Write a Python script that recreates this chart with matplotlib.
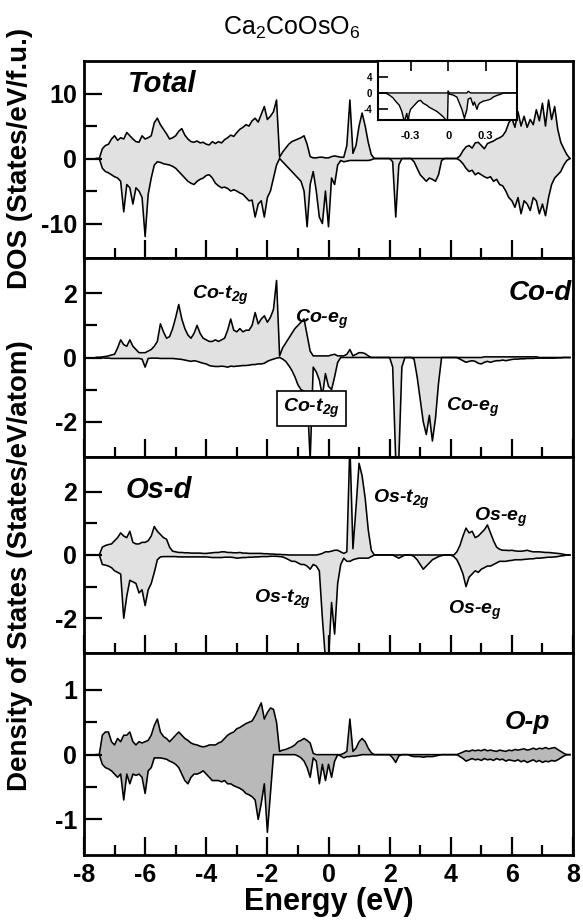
import numpy as np
import matplotlib
matplotlib.use('Agg')
import matplotlib.pyplot as plt
from matplotlib.ticker import MultipleLocator, FixedLocator

plt.rcParams['font.family'] = ['Liberation Sans', 'DejaVu Sans']
plt.rcParams['font.weight'] = 'bold'
plt.rcParams['mathtext.default'] = 'regular'
plt.rcParams['axes.unicode_minus'] = False

# ---------------- data (energy grid -7.6 ... 7.9 eV, step 0.1) ----------------
energy = np.linspace(-7.6, 7.9, 156)

total_up = [
    0, 0, 1.5, 2.0, 2.2, 3.0, 3.5, 2.8, 3.2, 3.0,
    4.0, 3.5, 3.0, 2.6, 2.5, 3.5, 3.0, 3.2, 3.5, 5.5,
    6.2, 5.2, 4.5, 3.8, 3.0, 3.2, 3.5, 4.2, 4.6, 3.6,
    3.0, 2.6, 2.5, 2.7, 2.4, 2.5, 2.2, 2.1, 2.6, 2.3,
    2.6, 2.4, 2.9, 3.2, 3.6, 3.4, 4.0, 4.5, 4.8, 5.2,
    5.0, 5.8, 6.2, 5.6, 6.8, 8.0, 6.0, 6.5, 7.2, 9.0,
    0.2, 1.0, 1.6, 2.2, 2.6, 2.8, 3.0, 3.2, 3.5, 2.2,
    0.3, 0.1, 0.1, 0.2, 0.2, 0.1, 0.1, 0.3, 0.4, 0.3,
    0.2, 0.2, 2.0, 9.0, 0.8, 2.0, 5.0, 7.0, 5.0, 2.5,
    0.6, 0, 0, 0, 0, 0, 0, 0, 0, 0,
    0, 0, 0, 0, 0, 0, 0, 0, 0, 0,
    0, 0, 0, 0, 0, 0, 0, 0, 0, 0.4,
    1.2, 1.8, 2.0, 1.6, 2.4, 2.5, 2.0, 1.5, 2.3, 2.5,
    2.7, 3.0, 3.2, 3.5, 4.2, 5.5, 6.2, 4.8, 7.2, 5.0,
    6.5, 4.8, 6.0, 5.2, 7.5, 5.8, 8.5, 5.0, 9.0, 6.0,
    8.0, 4.5, 2.5, 1.5, 0.6, 0]
total_dn = [
    0, 0, -1.5, -2.0, -2.2, -2.5, -2.8, -3.0, -3.5, -8.2,
    -4.0, -4.5, -7.0, -4.5, -5.0, -6.0, -12.0, -5.5, -3.0, -1.0,
    -0.5, -0.6, -0.8, -0.9, -1.0, -1.2, -1.5, -2.0, -2.5, -3.0,
    -3.5, -3.8, -4.0, -3.5, -3.2, -3.0, -2.6, -2.5, -3.0, -3.8,
    -4.2, -4.5, -4.4, -4.6, -5.0, -4.8, -5.0, -5.3, -5.5, -6.0,
    -6.5, -6.4, -9.0, -7.0, -6.5, -9.0, -6.0, -5.0, -3.0, -1.0,
    0, -0.5, -1.0, -1.5, -2.0, -2.5, -3.0, -3.5, -5.0, -10.5,
    -4.0, -2.0, -5.0, -9.0, -10.0, -5.0, -10.5, -3.0, -4.0, -1.0,
    -0.3, -0.5, -0.4, -0.3, -0.3, -0.3, -0.3, -0.3, -0.3, -0.3,
    -0.2, 0, 0, 0, 0, 0, 0, -0.5, -9.0, -1.0,
    0, 0, 0, 0, -0.5, -1.5, -2.5, -3.0, -3.5, -3.0,
    -3.2, -3.5, -2.5, -0.3, 0, 0, 0, 0, 0, -0.3,
    -0.8, -1.5, -2.0, -1.8, -2.5, -2.2, -2.5, -2.8, -3.0, -2.8,
    -3.5, -3.2, -4.0, -4.2, -5.0, -6.0, -6.5, -7.5, -6.0, -8.5,
    -6.5, -7.0, -8.0, -6.0, -6.5, -8.5, -7.0, -8.8, -6.0, -4.0,
    -3.0, -2.5, -2.0, -1.0, -0.3, 0]

co_up = [
    0, 0, 0.02, 0.03, 0.05, 0.08, 0.1, 0.3, 0.55, 0.4,
    0.35, 0.55, 0.35, 0.25, 0.15, 0.15, 0.15, 0.2, 0.25, 0.35,
    0.5, 1.05, 0.8, 0.6, 0.65, 0.9, 1.25, 1.65, 1.2, 0.9,
    0.7, 0.6, 0.75, 1.0, 0.75, 0.6, 0.55, 0.5, 0.5, 0.55,
    0.5, 0.55, 0.6, 0.85, 1.2, 0.85, 0.8, 0.9, 0.8, 0.85,
    0.85, 1.0, 1.4, 1.05, 1.2, 1.3, 1.1, 1.25, 1.5, 2.4,
    0.05, 0.3, 0.45, 0.6, 0.75, 0.9, 1.0, 1.1, 1.2, 0.7,
    0.2, 0.05, 0.05, 0.05, 0.05, 0.05, 0.05, 0.08, 0.1, 0.05,
    0.05, 0.05, 0.1, 0.25, 0.05, 0.1, 0.15, 0.15, 0.12, 0.05,
    0, 0, 0, 0, 0, 0, 0, 0, 0, 0,
    0, 0, 0, 0, 0, 0, 0, 0, 0, 0,
    0, 0, 0, 0, 0, 0, 0, 0, 0, 0,
    0, 0, 0, 0, 0, 0, 0, 0.02, 0.02, 0.02,
    0.02, 0.02, 0.02, 0.02, 0.02, 0.02, 0.02, 0.02, 0.02, 0.02,
    0.02, 0.02, 0.02, 0.02, 0.02, 0, 0, 0, 0, 0,
    0, 0, 0, 0, 0, 0]
co_dn = [
    0, 0, -0.01, -0.02, -0.02, -0.03, -0.03, -0.03, -0.03, -0.03,
    -0.03, -0.03, -0.03, -0.03, -0.03, -0.05, -0.3, -0.03, -0.02, -0.02,
    -0.02, -0.03, -0.03, -0.03, -0.03, -0.03, -0.04, -0.05, -0.06, -0.08,
    -0.1, -0.12, -0.1, -0.12, -0.15, -0.18, -0.2, -0.25, -0.27, -0.28,
    -0.28, -0.27, -0.28, -0.3, -0.27, -0.28, -0.27, -0.26, -0.25, -0.25,
    -0.24, -0.22, -0.22, -0.2, -0.2, -0.18, -0.12, -0.08, -0.05, -0.02,
    0, -0.05, -0.12, -0.25, -0.4, -0.6, -0.85, -1.0, -1.05, -1.15,
    -3.2, -0.3, -0.45, -0.7, -1.2, -0.5, -0.9, -1.0, -0.6, -0.15,
    0, 0, 0, 0, 0, 0, 0, 0, 0, 0,
    0, 0, 0, 0, 0, 0, 0, -0.3, -3.2, -3.2,
    -0.3, 0, 0, 0, -0.05, -0.6, -1.3, -2.0, -2.4, -1.8,
    -2.6, -1.9, -0.8, 0, 0, 0, 0, 0, 0, -0.05,
    -0.1, -0.15, -0.12, -0.1, -0.12, -0.18, -0.2, -0.15, -0.12, -0.15,
    -0.12, -0.1, -0.1, -0.08, -0.1, -0.08, -0.06, -0.05, -0.05, -0.04,
    -0.04, -0.03, -0.03, -0.03, -0.02, -0.02, -0.02, -0.02, -0.02, -0.02,
    -0.02, -0.01, -0.01, 0, 0, 0]

os_up = [
    0, 0, 0.25, 0.3, 0.33, 0.35, 0.45, 0.55, 0.7, 0.6,
    0.55, 0.75, 0.4, 0.35, 0.35, 0.4, 0.4, 0.45, 0.6, 0.9,
    0.75, 0.65, 0.55, 0.5, 0.25, 0.12, 0.1, 0.08, 0.08, 0.07,
    0.07, 0.06, 0.06, 0.06, 0.06, 0.05, 0.05, 0.06, 0.07, 0.08,
    0.08, 0.1, 0.1, 0.08, 0.08, 0.07, 0.07, 0.08, 0.06, 0.06,
    0.05, 0.05, 0.05, 0.05, 0.05, 0.04, 0.04, 0.03, 0.03, 0.02,
    0.02, 0.01, 0.01, 0, 0, 0, 0, 0, 0, 0,
    0, 0, 0, 0.02, 0.05, 0.1, 0.1, 0.12, 0.15, 0.15,
    0.1, 0.05, 0.1, 3.5, 0.2, 1.5, 2.9, 2.5, 1.8, 0.8,
    0.15, 0, 0, 0, 0, 0, 0, 0, 0, 0,
    0, 0, 0, 0, 0, 0, 0, 0, 0, 0,
    0, 0, 0, 0, 0, 0, 0, 0, 0.1, 0.3,
    0.6, 0.85, 0.7, 0.75, 0.55, 0.6, 0.7, 0.8, 0.95, 0.7,
    0.45, 0.25, 0.18, 0.15, 0.15, 0.14, 0.15, 0.13, 0.12, 0.12,
    0.13, 0.15, 0.12, 0.1, 0.1, 0.1, 0.09, 0.08, 0.08, 0.07,
    0.06, 0.05, 0.04, 0.02, 0, 0]
os_dn = [
    0, 0, -0.3, -0.32, -0.35, -0.4, -0.5, -0.55, -0.6, -2.0,
    -1.3, -0.8, -0.85, -0.9, -1.2, -1.1, -1.6, -1.1, -0.9, -0.55,
    -0.15, -0.06, -0.05, -0.05, -0.05, -0.05, -0.05, -0.06, -0.06, -0.06,
    -0.06, -0.06, -0.06, -0.06, -0.06, -0.06, -0.06, -0.07, -0.08, -0.08,
    -0.08, -0.08, -0.07, -0.07, -0.07, -0.08, -0.1, -0.09, -0.08, -0.08,
    -0.07, -0.07, -0.06, -0.06, -0.05, -0.05, -0.05, -0.04, -0.04, -0.04,
    -0.05, -0.06, -0.1, -0.15, -0.2, -0.2, -0.25, -0.3, -0.3, -0.35,
    -0.45, -0.3, -0.35, -0.5, -2.0, -3.3, -3.3, -1.5, -2.5, -0.9,
    -0.3, -0.1, -0.2, -0.2, -0.15, -0.12, -0.1, -0.1, -0.1, -0.1,
    -0.05, 0, 0, 0, 0, 0, 0, 0, -0.05, -0.1,
    -0.05, 0, 0, 0, -0.05, -0.15, -0.3, -0.45, -0.35, -0.25,
    -0.15, -0.1, -0.05, -0.02, 0, 0, 0, -0.05, -0.15, -0.35,
    -0.6, -1.0, -0.7, -0.6, -0.5, -0.55, -0.45, -0.4, -0.35, -0.35,
    -0.3, -0.25, -0.2, -0.2, -0.2, -0.18, -0.17, -0.15, -0.15, -0.15,
    -0.14, -0.13, -0.12, -0.12, -0.1, -0.1, -0.09, -0.08, -0.07, -0.07,
    -0.06, -0.05, -0.03, -0.02, 0, 0]

op_up = [
    0, 0, 0.3, 0.35, 0.35, 0.2, 0.15, 0.25, 0.2, 0.3,
    0.3, 0.35, 0.2, 0.15, 0.2, 0.18, 0.2, 0.22, 0.3, 0.45,
    0.55, 0.35, 0.28, 0.25, 0.2, 0.25, 0.3, 0.35, 0.3, 0.25,
    0.22, 0.18, 0.16, 0.15, 0.13, 0.12, 0.13, 0.15, 0.15, 0.15,
    0.18, 0.2, 0.25, 0.3, 0.33, 0.35, 0.4, 0.42, 0.45, 0.48,
    0.5, 0.52, 0.6, 0.7, 0.8, 0.55, 0.65, 0.72, 0.7, 0.5,
    0.05, 0.07, 0.08, 0.1, 0.12, 0.15, 0.2, 0.22, 0.25, 0.22,
    0.18, 0.02, 0, 0, 0, 0, 0, 0, 0, 0,
    0, 0.02, 0.05, 0.55, 0.05, 0.1, 0.2, 0.25, 0.2, 0.1,
    0.03, 0, 0, 0, 0, 0, 0, 0, 0, 0,
    0, 0, 0, 0, 0, 0, 0, 0, 0, 0,
    0, 0, 0, 0, 0, 0, 0, 0, 0, 0.02,
    0.04, 0.06, 0.05, 0.07, 0.06, 0.07, 0.06, 0.08, 0.06, 0.07,
    0.06, 0.05, 0.07, 0.06, 0.05, 0.07, 0.06, 0.08, 0.07, 0.08,
    0.09, 0.07, 0.08, 0.1, 0.08, 0.1, 0.09, 0.11, 0.09, 0.1,
    0.11, 0.08, 0.05, 0.02, 0, 0]
op_dn = [
    0, 0, -0.15, -0.2, -0.22, -0.25, -0.3, -0.35, -0.3, -0.7,
    -0.3, -0.45, -0.3, -0.32, -0.3, -0.35, -0.6, -0.25, -0.2, -0.05,
    -0.05, -0.05, -0.06, -0.07, -0.1, -0.12, -0.15, -0.2, -0.3, -0.4,
    -0.45, -0.35, -0.3, -0.3, -0.28, -0.25, -0.3, -0.35, -0.4, -0.4,
    -0.4, -0.42, -0.4, -0.45, -0.45, -0.48, -0.5, -0.52, -0.55, -0.6,
    -0.62, -0.65, -0.7, -1.0, -0.75, -0.45, -1.2, -0.6, 0, 0,
    0, 0, 0, 0, 0, 0, -0.02, -0.05, -0.1, -0.2,
    -0.35, -0.05, -0.1, -0.45, -0.15, -0.4, -0.15, -0.35, -0.1, 0,
    -0.02, -0.05, -0.03, -0.03, -0.02, -0.02, -0.01, 0, 0, 0,
    0, 0, 0, 0, 0, 0, 0, -0.05, -0.12, -0.02,
    0, 0, 0, -0.02, -0.03, -0.03, -0.03, -0.04, -0.03, -0.03,
    -0.03, -0.02, -0.01, 0, 0, 0, 0, 0, 0, -0.03,
    -0.06, -0.1, -0.08, -0.06, -0.08, -0.07, -0.09, -0.06, -0.08, -0.07,
    -0.09, -0.06, -0.08, -0.07, -0.1, -0.08, -0.09, -0.1, -0.08, -0.11,
    -0.09, -0.12, -0.1, -0.08, -0.11, -0.09, -0.12, -0.1, -0.11, -0.09,
    -0.1, -0.08, -0.05, -0.02, 0, 0]

# inset: total DOS near the Fermi level
inset_energy = [-0.55, -0.5, -0.47, -0.44, -0.42, -0.39, -0.37, -0.35, -0.33, -0.32,
                -0.31, -0.3, -0.27, -0.24, -0.22, -0.2, -0.17, -0.15, -0.12, -0.09,
                -0.07, -0.04, -0.02, -0.005, 0.0, 0.01, 0.04, 0.07, 0.09, 0.11,
                0.13, 0.15, 0.16, 0.18, 0.2, 0.21, 0.23, 0.24, 0.25, 0.28,
                0.31, 0.34, 0.36, 0.39, 0.42, 0.44, 0.55]
inset_dn = [0, 0, -0.5, -1.2, -2.0, -3.0, -4.5, -7, -5, -7,
            -5, -4, -3, -2, -1.8, -2.5, -3, -3.5, -4, -4.5,
            -5, -5.8, -6.5, -7, 0, -0.3, -0.5, -1, -2.5, -4,
            -6.2, -4, -1.5, -1.2, -3, -2.2, -4, -3, -2.5, -2,
            -1.8, -1.5, -1, -0.6, -0.3, 0, 0]
inset_up = [0, 0, 0, 0, 0, 0, 0, 0, 0, 0,
            0, 0, 0, 0, 0, 0, 0, 0, 0, 0,
            0, 0, 0, 0, 0.5, 0, 0, 0, 0, 0,
            0, 0, 0.4, 0, 0, 0, 0, 0, 0, 0,
            0, 0, 0, 0, 0, 0, 0]

# ---------------- figure ----------------
W_PX, H_PX = 583, 923
fig = plt.figure(figsize=(W_PX / 100, H_PX / 100), dpi=100)
X0, X1 = 84, 573


def rect(top, bot):
    return [X0 / W_PX, 1 - bot / H_PX, (X1 - X0) / W_PX, (bot - top) / H_PX]


LIGHT = '#e1e1e1'
DARK = '#b9b9b9'


def panel(ax, up, dn, ylim, major, minors, color):
    ax.fill_between(energy, dn, up, color=color, lw=0, zorder=1)
    ax.plot(energy, up, color='k', lw=1.15, zorder=2)
    ax.plot(energy, dn, color='k', lw=1.15, zorder=2)
    ax.set_xlim(-8, 8)
    ax.set_ylim(*ylim)
    ax.xaxis.set_major_locator(MultipleLocator(2))
    ax.xaxis.set_minor_locator(MultipleLocator(1))
    ax.yaxis.set_major_locator(MultipleLocator(major))
    ax.yaxis.set_minor_locator(FixedLocator(minors))
    ax.tick_params(axis='x', which='both', direction='in', bottom=True, top=False,
                   labelbottom=False, width=1.6)
    ax.tick_params(axis='x', which='major', length=13)
    ax.tick_params(axis='x', which='minor', length=7)
    ax.tick_params(axis='y', which='both', direction='in', left=True, right=False,
                   width=1.6)
    ax.tick_params(axis='y', which='major', length=13, labelsize=18, pad=5)
    ax.tick_params(axis='y', which='minor', length=9)
    for sp in ax.spines.values():
        sp.set_linewidth(2.0)
        sp.set_zorder(5)


ax_tot = fig.add_axes(rect(61, 258))
ax_co = fig.add_axes(rect(258, 457))
ax_os = fig.add_axes(rect(457, 653))
ax_op = fig.add_axes(rect(653, 855))

panel(ax_tot, total_up, total_dn, (-15.3, 15.0), 10, [-5, 5], LIGHT)
panel(ax_co, co_up, co_dn, (-3.1, 3.1), 2, [-1, 1], LIGHT)
panel(ax_os, os_up, os_dn, (-3.1, 3.1), 2, [-1, 1], LIGHT)
panel(ax_op, op_up, op_dn, (-1.55, 1.57), 1, [-0.5, 0.5], DARK)

ax_op.tick_params(axis='x', which='major', labelbottom=True, labelsize=18, pad=6)
ax_op.set_xlabel('Energy (eV)', fontsize=22, fontweight='bold', labelpad=0)

TXT = dict(fontweight='bold', fontstyle='italic')
ax_tot.text(-6.55, 11.5, 'Total', fontsize=21, va='center', ha='left', **TXT)
ax_co.text(7.95, 2.0, 'Co-d', fontsize=20, va='center', ha='right', **TXT)
ax_os.text(-6.65, 2.05, 'Os-d', fontsize=21, va='center', ha='left', **TXT)
ax_op.text(7.25, 0.5, 'O-p', fontsize=19, va='center', ha='right', **TXT)

ax_co.text(-4.45, 1.95, 'Co-t$_{2g}$', fontsize=14, va='center', ha='left', **TXT)
ax_co.text(-1.1, 1.2, 'Co-e$_{g}$', fontsize=14, va='center', ha='left', **TXT)
ax_co.text(-0.56, -1.58, 'Co-t$_{2g}$', fontsize=14, va='center', ha='center', zorder=6,
           bbox=dict(boxstyle='square,pad=0.3', fc='white', ec='k', lw=1.2), **TXT)
ax_co.text(3.85, -1.55, 'Co-e$_{g}$', fontsize=14, va='center', ha='left', **TXT)

ax_os.text(1.45, 1.75, 'Os-t$_{2g}$', fontsize=14, va='center', ha='left', **TXT)
ax_os.text(4.75, 1.2, 'Os-e$_{g}$', fontsize=14, va='center', ha='left', **TXT)
ax_os.text(-2.45, -1.4, 'Os-t$_{2g}$', fontsize=14, va='center', ha='left', **TXT)
ax_os.text(3.9, -1.75, 'Os-e$_{g}$', fontsize=14, va='center', ha='left', **TXT)

fig.text(0.5, 1 - 28 / H_PX, 'Ca$_2$CoOsO$_6$', fontsize=18, fontweight='normal',
         ha='center', va='center')
fig.text(20 / W_PX, 1 - 158 / H_PX, 'DOS (States/eV/f.u.)', rotation=90,
         fontsize=20, fontweight='bold', ha='center', va='center')
fig.text(20 / W_PX, 1 - 566 / H_PX, 'Density of States (States/eV/atom)', rotation=90,
         fontsize=20, fontweight='bold', ha='center', va='center')

# inset
ax_in = fig.add_axes([378 / W_PX, 1 - 120 / H_PX, 139 / W_PX, 59 / H_PX], zorder=10)
ax_in.set_facecolor('white')
ax_in.fill_between(inset_energy, inset_dn, inset_up, color=LIGHT, lw=0)
ax_in.plot(inset_energy, inset_up, color='k', lw=1.0)
ax_in.plot(inset_energy, inset_dn, color='k', lw=1.0)
ax_in.set_xlim(-0.56, 0.55)
ax_in.set_ylim(-6.6, 7.8)
ax_in.set_xticks([-0.3, 0, 0.3])
ax_in.set_xticklabels(['-0.3', '0', '0.3'])
ax_in.set_yticks([-4, 0, 4])
ax_in.set_yticklabels(['-4', '0', '4'])
ax_in.tick_params(axis='x', direction='in', top=True, bottom=False, labelbottom=True,
                  length=7, width=1.2, labelsize=8, pad=8)
ax_in.tick_params(axis='y', direction='in', left=True, right=False, length=7,
                  width=1.2, labelsize=7, pad=4)
for sp in ax_in.spines.values():
    sp.set_linewidth(1.5)

fig.savefig('out.png', dpi=100)
